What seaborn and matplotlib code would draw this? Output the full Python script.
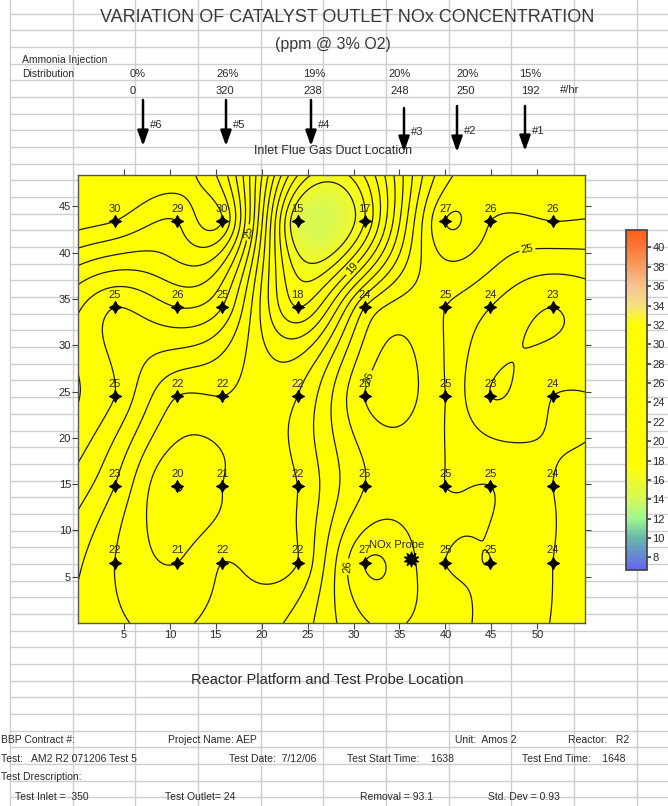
# Variation de la concentration NOx en sortie de catalyseur (grille de sondes)

import numpy as np
import pandas as pd
import seaborn as sns
import matplotlib.pyplot as plt
from matplotlib.colors import LinearSegmentedColormap, Normalize
from matplotlib.cm import ScalarMappable

x_pos = [4.0, 10.8, 15.7, 23.9, 31.2, 40.0, 44.9, 51.7]
y_pos = [43.4, 34.1, 24.5, 14.8, 6.5]
nox = [
    [30, 29, 30, 15, 17, 27, 26, 26],
    [25, 26, 25, 18, 24, 25, 24, 23],
    [25, 22, 22, 22, 26, 25, 23, 24],
    [23, 20, 21, 22, 25, 25, 25, 24],
    [22, 21, 22, 22, 27, 25, 25, 24],
]
probe_x = [36.3]
probe_y = [6.9]

injection_pct = ['0%', '26%', '19%', '20%', '20%', '15%']
injection_rate = ['0', '320', '238', '248', '250', '192']
injection_name = ['#6', '#5', '#4', '#3', '#2', '#1']

cbar_ticks = list(range(8, 41, 2))

# Mise en page (pixels de la feuille de calcul)
W, H = 668, 806
arrow_x = [143, 226, 311, 404, 457, 525]
arrow_top = [100, 100, 100, 108, 106, 106]
arrow_bot = [146, 146, 146, 152, 152, 151]
pct_x = [130, 216, 303, 388, 456, 519]
rate_x = [130, 216, 303, 390, 456, 521]
# points d'accroche des étiquettes d'iso-lignes
label_spots = [(18.5, 42.2), (30.0, 38.1), (49.0, 39.8), (31.6, 26.5), (29.0, 6.1)]

FONT = 'Liberation Sans'
TXT = '#2a2a2a'

df = pd.DataFrame([(x, y, v) for y, row in zip(y_pos, nox) for x, v in zip(x_pos, row)],
                  columns=['x', 'y', 'nox'])

# Interpolation spline plaque mince pour le tracé des iso-lignes
P = df[['x', 'y']].to_numpy() / 10
v = df['nox'].to_numpy(float)


def tps(r):
    with np.errstate(divide='ignore', invalid='ignore'):
        out = r ** 2 * np.log(r)
    return np.nan_to_num(out)


n = len(P)
K = tps(np.linalg.norm(P[:, None] - P[None], axis=2))
Pm = np.column_stack([np.ones(n), P])
A = np.block([[K, Pm], [Pm.T, np.zeros((3, 3))]])
coef = np.linalg.solve(A, np.concatenate([v, np.zeros(3)]))
gx, gy = np.meshgrid(np.linspace(0, 55.2, 260), np.linspace(0, 48.4, 230))
G = np.column_stack([gx.ravel(), gy.ravel()]) / 10
Z = tps(np.linalg.norm(G[:, None] - P[None], axis=2)) @ coef[:n] + coef[n] + G @ coef[n + 1:]
Z = Z.reshape(gx.shape)

vmin, vmax = 6.7, 41.8
stops = [(6.7, '#6464f5'), (10, '#68b8a8'), (12, '#a0f890'), (14, '#d4f858'),
         (16, '#f0fa28'), (17.5, '#ffff00'), (32, '#ffff00'), (34, '#f4e27a'),
         (36, '#f6c496'), (38, '#f8a062'), (40, '#fb7838'), (41.8, '#ff6018')]
cmap = LinearSegmentedColormap.from_list(
    'nox', [((s - vmin) / (vmax - vmin), c) for s, c in stops])
norm = Normalize(vmin, vmax)

# Figure
sns.set_theme(style="white")
plt.rcParams['font.family'] = [FONT, 'DejaVu Sans']
fig = plt.figure(figsize=(W / 100, H / 100), dpi=100)

# Fond : quadrillage de la feuille de calcul
bg = fig.add_axes([0, 0, 1, 1], zorder=0)
bg.set_xlim(0, W)
bg.set_ylim(H, 0)
bg.axis('off')
for yy in np.arange(13.5, H, 16.68):
    bg.plot([10, W], [yy, yy], color='#cfcfcf', lw=1.0)
for xx in np.arange(10, W, 62.65):
    bg.plot([xx, xx], [0, H], color='#cfcfcf', lw=1.0)

bg.text(347, 18, "VARIATION OF CATALYST OUTLET NOx CONCENTRATION", ha='center', va='center',
        fontsize=13, color='#3a3a3a')
bg.text(333, 44, "(ppm @ 3% O2)", ha='center', va='center', fontsize=11.5, color='#3a3a3a')
bg.text(22, 60, "Ammonia Injection", ha='left', va='center', fontsize=7.5, color=TXT)
bg.text(22, 74, "Distribution", ha='left', va='center', fontsize=7.5, color=TXT)
for xp, t in zip(pct_x, injection_pct):
    bg.text(xp, 74, t, ha='left', va='center', fontsize=8, color=TXT)
for xp, t in zip(rate_x, injection_rate):
    bg.text(xp, 91, t, ha='left', va='center', fontsize=8, color=TXT)
bg.text(560, 90, "#/hr", ha='left', va='center', fontsize=8, color=TXT)

for xa, y0, y1, name in zip(arrow_x, arrow_top, arrow_bot, injection_name):
    bg.annotate('', xy=(xa, y1), xytext=(xa, y0),
                arrowprops=dict(arrowstyle='-|>,head_length=0.7,head_width=0.25', color='black',
                                lw=1.8, mutation_scale=13, shrinkA=0, shrinkB=0))
    bg.text(xa + 7, (y0 + y1) / 2 + 2, name, ha='left', va='center', fontsize=8, color=TXT)

bg.text(333, 151, "Inlet Flue Gas Duct Location", ha='center', va='center', fontsize=9, color=TXT)
bg.text(327, 680, "Reactor Platform and Test Probe Location", ha='center', va='center',
        fontsize=10.5, color=TXT)

footer = [
    (1, 740, "BBP Contract #:"), (168, 740, "Project Name: AEP"),
    (455, 740, "Unit:  Amos 2"), (568, 740, "Reactor:   R2"),
    (1, 759, "Test:   AM2 R2 071206 Test 5"), (229, 759, "Test Date:  7/12/06"),
    (347, 759, "Test Start Time:    1638"), (522, 759, "Test End Time:    1648"),
    (1, 777, "Test Drescription:"),
    (15, 797, "Test Inlet =  350"), (165, 797, "Test Outlet= 24"),
    (360, 797, "Removal = 93.1"), (488, 797, "Std. Dev = 0.93"),
]
for xf, yf, t in footer:
    bg.text(xf, yf, t, ha='left', va='center', fontsize=7.5, color=TXT)

# Carte de contours
ax = fig.add_axes([78 / W, 1 - 623 / H, (585 - 78) / W, (623 - 175) / H], zorder=1)
ax.contourf(gx, gy, Z, levels=np.arange(6, 43, 0.5), cmap=cmap, norm=norm)
cs = ax.contour(gx, gy, Z, levels=np.arange(16, 31), colors='#1c1c00', linewidths=0.9)
ax.clabel(cs, manual=label_spots, fmt='%d', fontsize=8, inline=True, inline_spacing=2)

sns.scatterplot(data=df, x='x', y='y', marker=(4, 1, 0), s=80, color='black',
                edgecolor='black', linewidth=0.6, ax=ax, legend=False, zorder=3)
for _, r in df.iterrows():
    ax.annotate(f"{r['nox']:.0f}", (r['x'], r['y']), xytext=(0, 9), textcoords='offset points',
                ha='center', va='center', fontsize=8, color=TXT, zorder=4)

ax.scatter(probe_x, probe_y, marker=(10, 1, 0), s=110, color='black', zorder=4)
ax.annotate("NOx Probe", (probe_x[0], probe_y[0]), xytext=(-11, 10), textcoords='offset points',
            ha='center', va='center', fontsize=8, color=TXT, zorder=4)

ax.set_xlim(0, 55.2)
ax.set_ylim(0, 48.4)
ax.set_xticks(range(5, 55, 5))
ax.set_yticks(range(5, 48, 5))
ax.set_xlabel('')
ax.set_ylabel('')
ax.tick_params(axis='both', direction='out', length=4, width=0.8, color='#444444',
               labelsize=8, labelcolor=TXT, top=True, right=True, bottom=True, left=True,
               pad=1)
for s in ax.spines.values():
    s.set_color('#555555')
    s.set_linewidth(1)

# Barre de couleur
cax = fig.add_axes([626 / W, 1 - 570 / H, 21 / W, 340 / H], zorder=1)
cb = fig.colorbar(ScalarMappable(norm=norm, cmap=cmap), cax=cax, ticks=cbar_ticks)
cb.ax.tick_params(labelsize=8, length=3, color='#444444', labelcolor=TXT, pad=1)
cb.outline.set_edgecolor('#444444')

fig.savefig("out.png", dpi=100)
